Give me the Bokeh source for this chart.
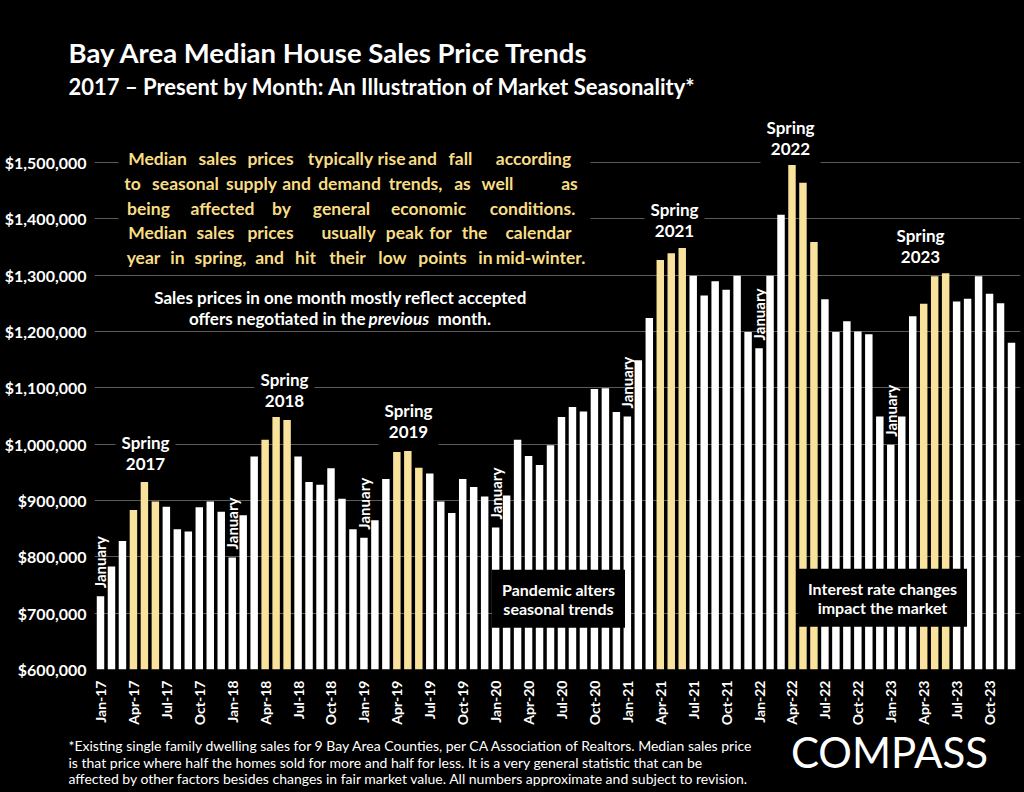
import math
from bokeh.plotting import figure
from bokeh.layouts import column
from bokeh.models import (ColumnDataSource, Range1d, FixedTicker, NumeralTickFormatter,
                          Label, LabelSet, BoxAnnotation)
from bokeh.core.properties import value
from bokeh.embed import file_html
from bokeh.resources import INLINE

# ---------------- data ----------------
years = ["17", "18", "19", "20", "21", "22", "23"]
month_names = ["Jan", "Feb", "Mar", "Apr", "May", "Jun",
               "Jul", "Aug", "Sep", "Oct", "Nov", "Dec"]
months = [f"{m}-{y}" for y in years for m in month_names]

prices_2017 = [730000, 783000, 828000, 883000, 933000, 898000, 889000, 849000, 845000, 888000, 898000, 880000]
prices_2018 = [799000, 874000, 978000, 1008000, 1048000, 1043000, 978000, 933000, 928000, 957000, 903000, 849000]
prices_2019 = [834000, 865000, 938000, 986000, 988000, 958000, 948000, 898000, 878000, 938000, 924000, 907000]
prices_2020 = [852000, 909000, 1008000, 979000, 963000, 998000, 1048000, 1066000, 1058000, 1098000, 1099000, 1057000]
prices_2021 = [1049000, 1149000, 1224000, 1327000, 1339000, 1348000, 1299000, 1264000, 1289000, 1274000, 1299000, 1199000]
prices_2022 = [1170000, 1299000, 1407000, 1500000, 1464000, 1359000, 1257000, 1199000, 1218000, 1200000, 1195000, 1049000]
prices_2023 = [999000, 1049000, 1227000, 1249000, 1298000, 1323000, 1253000, 1258000, 1298000, 1267000, 1250000, 1180000]
prices = prices_2017 + prices_2018 + prices_2019 + prices_2020 + prices_2021 + prices_2022 + prices_2023

spring_months = ["Apr-17", "May-17", "Jun-17", "Apr-18", "May-18", "Jun-18",
                 "Apr-19", "May-19", "Jun-19", "Apr-21", "May-21", "Jun-21",
                 "Apr-22", "May-22", "Jun-22", "Apr-23", "May-23", "Jun-23"]

tick_labels = ["Jan-17", "Apr-17", "Jul-17", "Oct-17", "Jan-18", "Apr-18", "Jul-18", "Oct-18",
               "Jan-19", "Apr-19", "Jul-19", "Oct-19", "Jan-20", "Apr-20", "Jul-20", "Oct-20",
               "Jan-21", "Apr-21", "Jul-21", "Oct-21", "Jan-22", "Apr-22", "Jul-22", "Oct-22",
               "Jan-23", "Apr-23", "Jul-23", "Oct-23"]

y_ticks = [600000, 700000, 800000, 900000, 1000000, 1100000, 1200000, 1300000, 1400000, 1500000]

# ---------------- style / geometry ----------------
WHITE = "#ffffff"
GOLD = "#f9e29c"
TEXT_GOLD = "#f8dd85"
GRID = "#5a5a5a"
FONT = "Lato"

W = 1024
HEAD_H, MAIN_H, FOOT_H = 112, 616, 64          # stacked: 0-112, 112-728, 728-792
MAIN_TOP = HEAD_H
FL, FR = 94, 1020                              # frame left / right (px)
F_BOT = 670                                    # frame bottom (page px)
N = len(months)
UNIT = 10.976                                  # px per month
PAD_L = (100 - FL) / UNIT
PAD_R = (FR - FL) / UNIT - (N - 1) - PAD_L
PX100K = 56.44                                 # px per $100k
Y0 = y_ticks[0]


def xd(ix):  # page px -> data x
    return -PAD_L + (ix - FL) / UNIT


def yd(iy):  # page px -> data y
    return Y0 + (F_BOT - iy) * 100000 / PX100K


def plain_fig(h):
    f = figure(width=W, height=h, title=None, x_range=Range1d(0, W), y_range=Range1d(h, 0),
               output_backend="svg", toolbar_location=None, x_axis_location=None,
               y_axis_location=None, min_border=0, background_fill_color=None,
               border_fill_color=None, outline_line_color=None, frame_align=False)
    f.xgrid.visible = False
    f.ygrid.visible = False
    return f


def label(fig, text, x, y, size, color=WHITE, style="bold", align="left", **kw):
    lab = Label(x=x, y=y, text=text, text_font=FONT, text_font_size=f"{size}px",
                text_font_style=style, text_color=color, text_align=align,
                text_baseline="middle", **kw)
    fig.add_layout(lab)
    return lab


# ---------------- header ----------------
head = plain_fig(HEAD_H)
label(head, "Bay Area Median House Sales Price Trends", 68, 52, 27.5)
label(head, "2017 \u2013 Present by Month:  An Illustration of Market Seasonality*", 68, 86, 22)

# ---------------- main chart ----------------
p = figure(width=W, height=MAIN_H, title=None,
           x_range=Range1d(-PAD_L, N - 1 + PAD_R),
           y_range=Range1d(Y0, yd(MAIN_TOP)),
           output_backend="svg", toolbar_location=None, frame_align=False,
           min_border_left=FL, min_border_right=W - FR, min_border_top=0,
           min_border_bottom=MAIN_TOP + MAIN_H - F_BOT,
           background_fill_color=None, border_fill_color=None, outline_line_color=None)

colors = [GOLD if m in spring_months else WHITE for m in months]
src = ColumnDataSource(dict(x=list(range(N)), top=prices, color=colors, month=months))
p.vbar(x="x", top="top", bottom=Y0, width=0.68, fill_color="color", line_color=None, source=src)

p.yaxis.ticker = FixedTicker(ticks=y_ticks)
p.yaxis.formatter = NumeralTickFormatter(format="$0,0")
p.yaxis.axis_line_color = None
p.yaxis.major_tick_line_color = None
p.yaxis.minor_tick_line_color = None
p.yaxis.major_tick_out = 0
p.yaxis.major_tick_in = 0
p.yaxis.major_label_standoff = 8
p.yaxis.major_label_text_color = WHITE
p.yaxis.major_label_text_font = FONT
p.yaxis.major_label_text_font_style = "bold"
p.yaxis.major_label_text_font_size = "16px"

tick_pos = [months.index(t) for t in tick_labels]
p.xaxis.ticker = FixedTicker(ticks=tick_pos)
p.xaxis.major_label_overrides = {i: t for i, t in zip(tick_pos, tick_labels)}
p.xaxis.major_label_orientation = math.pi / 2
p.xaxis.axis_line_color = None
p.xaxis.major_tick_line_color = None
p.xaxis.minor_tick_line_color = None
p.xaxis.major_tick_out = 0
p.xaxis.major_tick_in = 0
p.xaxis.major_label_standoff = 11
p.xaxis.major_label_text_color = WHITE
p.xaxis.major_label_text_font = FONT
p.xaxis.major_label_text_font_style = "bold"
p.xaxis.major_label_text_font_size = "14px"

p.xgrid.grid_line_color = None
p.ygrid.grid_line_color = GRID
p.ygrid.grid_line_width = 1


def mlabel(text, ix, iy, size, **kw):
    return label(p, text, xd(ix), yd(iy), size, **kw)


# black box behind the yellow explanation (hides grid lines)
p.add_layout(BoxAnnotation(left=xd(118), right=xd(590), top=yd(143), bottom=yd(271),
                           fill_color="black", fill_alpha=1, line_color=None))

# words of the justified yellow paragraph: (word, centre x) per line
yellow_lines = [
    (158, [("Median", 157), ("sales", 217), ("prices", 270), ("typically", 340), ("rise", 391),
           ("and", 422), ("fall", 460), ("according", 533)]),
    (183, [("to", 132), ("seasonal", 185), ("supply", 251), ("and", 296), ("demand", 349),
           ("trends,", 415), ("as", 462), ("well", 497), ("as", 569)]),
    (208, [("being", 148), ("affected", 222), ("by", 281), ("general", 341), ("economic", 428),
           ("conditions.", 532)]),
    (232, [("Median", 157), ("sales", 215), ("prices", 270), ("usually", 348), ("peak", 404),
           ("for", 440), ("the", 474), ("calendar", 538)]),
    (257, [("year", 143), ("in", 177), ("spring,", 220), ("and", 269), ("hit", 305), ("their", 347),
           ("low", 392), ("points", 442), ("in", 485), ("mid-winter.", 540)]),
]
for iy, words in yellow_lines:
    for w, ix in words:
        mlabel(w, ix, iy, 17.5, color=TEXT_GOLD, align="center")

p.segment(x0=[xd(125), xd(125)], y0=[yd(243), yd(268)], x1=[xd(581), xd(570)], y1=[yd(243), yd(268)],
          line_color=TEXT_GOLD, line_width=1.6)

# note about the previous month
mlabel("Sales prices in one month mostly reflect accepted", 340, 297, 17, align="center")
mlabel("offers negotiated in the", 365, 318, 17, align="right")
mlabel("previous", 368, 318, 17, style="bold italic")
mlabel("month.", 437, 318, 17)

# spring labels
springs = [("Spring\n2017", 145, 453.5), ("Spring\n2018", 284, 389.5), ("Spring\n2019", 408, 421),
           ("Spring\n2021", 674, 219.5), ("Spring\n2022", 790, 137.5), ("Spring\n2023", 920, 246)]
for t, ix, iy in springs:
    mlabel(t, ix, iy, 17, align="center", text_line_height=1.0,
           background_fill_color="black", background_fill_alpha=1, padding=6)

# January labels above the January bars
jan_idx = [i for i, m in enumerate(months) if m.startswith("Jan")]
jan_src = ColumnDataSource(dict(x=jan_idx, y=[prices[i] for i in jan_idx],
                                t=["January"] * len(jan_idx)))
p.add_layout(LabelSet(x="x", y="y", text="t", source=jan_src, angle=math.pi / 2,
                      y_offset=8, text_align="left", text_baseline="middle",
                      text_font=value(FONT), text_font_size="15px", text_font_style="bold",
                      text_color=WHITE))

# boxes over the bars
mlabel("Pandemic alters\nseasonal trends", 558, 599, 16, align="center", text_line_height=1.0,
       background_fill_color="black", background_fill_alpha=1, padding=10)
mlabel("Interest rate changes\nimpact the market", 882, 598, 16, align="center", text_line_height=1.0,
       background_fill_color="black", background_fill_alpha=1, padding=10)

# ---------------- footer ----------------
foot = plain_fig(FOOT_H)
label(foot, "*Existing single family dwelling sales for 9 Bay Area Counties, per CA Association of Realtors. Median sales price",
      68, 17, 14, style="normal")
label(foot, "is that price where half the homes sold for more and half for less. It is a very general statistic that can be",
      68, 34, 14, style="normal")
label(foot, "affected by other factors besides changes in fair market value. All numbers approximate and subject to revision.",
      68, 50, 14, style="normal")
label(foot, "COMPASS", 889, 23, 42, style="normal", align="center")

layout = column(head, p, foot, spacing=0)
html = file_html(layout, INLINE)
html = html.replace("<head>", "<head><style>html, body { background-color: #000000; }</style>", 1)
open("out.html", "w").write(html)
